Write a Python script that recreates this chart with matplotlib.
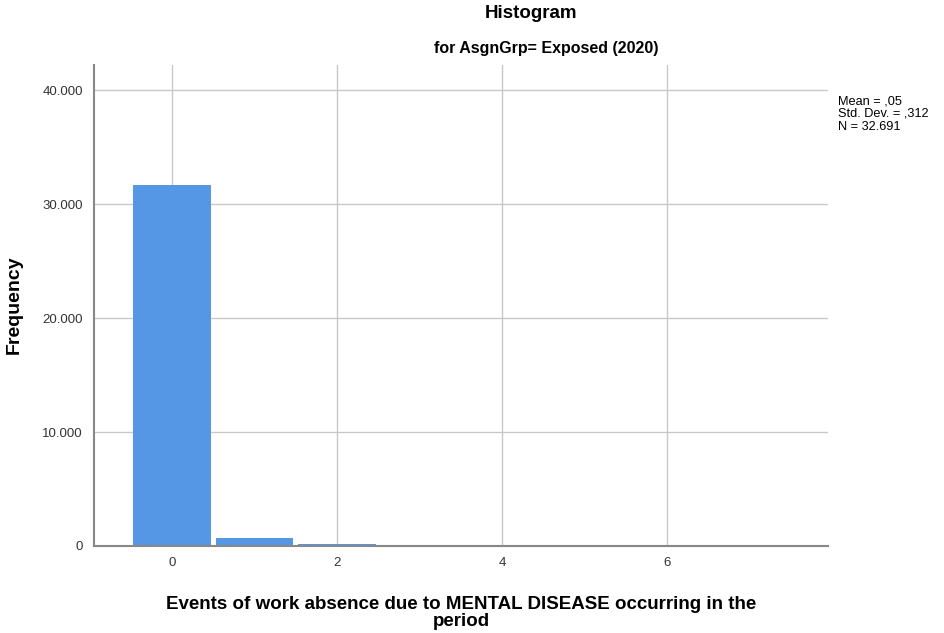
import matplotlib.pyplot as plt
import matplotlib.ticker as mticker

# frequency per number of events (bins centered on integers)
events = [0, 1, 2, 3, 4, 5, 6, 7]
counts = [31670, 700, 200, 70, 25, 12, 8, 6]
xticks = [0, 2, 4, 6]
yticks = [0, 10000, 20000, 30000, 40000]
stats_text = "Mean = ,05\nStd. Dev. = ,312\nN = 32.691"

plt.rcParams['font.family'] = ['Liberation Sans', 'DejaVu Sans']

fig = plt.figure(figsize=(9.45, 6.33), dpi=100)
ax = fig.add_axes([94 / 945, 1 - 546 / 633, (828 - 94) / 945, (546 - 65) / 633])

ax.bar(events, counts, width=0.945, color='#5596e5', linewidth=0, zorder=2)

ax.set_xlim(-0.945, 7.95)
ax.set_ylim(0, 42200)
ax.set_xticks(xticks)
ax.set_yticks(yticks)
ax.yaxis.set_major_formatter(mticker.FuncFormatter(lambda v, p: f"{int(v):,}".replace(",", ".")))
ax.grid(True, color='#c8c8c8', linewidth=1, zorder=0)
ax.set_axisbelow(True)
ax.tick_params(length=0, labelsize=9.5, colors='#333333', pad=8)

for s in ['top', 'right']:
    ax.spines[s].set_visible(False)
for s in ['left', 'bottom']:
    ax.spines[s].set_color('#888888')
    ax.spines[s].set_linewidth(1.5)
    ax.spines[s].set_zorder(4)

fig.text(14 / 945, 1 - 305 / 633, "Frequency", rotation=90, ha='center', va='center',
         fontsize=14, fontweight='bold')
fig.text(461 / 945, 1 - 613 / 633, "Events of work absence due to MENTAL DISEASE occurring in the\nperiod",
         ha='center', va='center', fontsize=13.5, fontweight='bold', linespacing=1.0)
fig.text(531 / 945, 1 - 13 / 633, "Histogram", ha='center', va='center', fontsize=13.5,
         fontweight='bold')
fig.text(546 / 945, 1 - 48 / 633, "for AsgnGrp= Exposed (2020)", ha='center', va='center',
         fontsize=11.5, fontweight='bold')
fig.text(838 / 945, 1 - 114 / 633, stats_text, ha='left', va='center', fontsize=9.2,
         linespacing=1.1)

fig.savefig("out.png", dpi=100)
